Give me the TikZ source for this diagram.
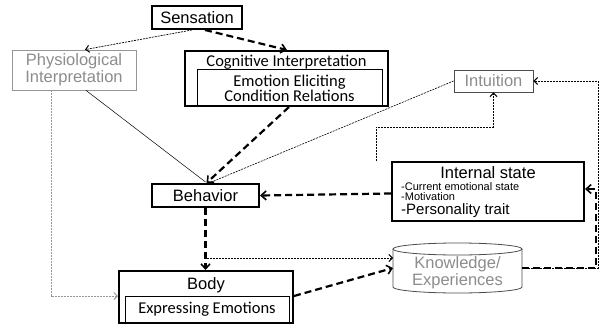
\documentclass[tikz,border=0pt]{standalone}
\usepackage{fontspec}
\setmainfont{Liberation Sans}
\newfontfamily\calib{Carlito}
\usetikzlibrary{arrows.meta,calc}
\definecolor{lgray}{RGB}{140,140,140}
\definecolor{bgray}{RGB}{150,150,150}
\tikzset{
  thickbox/.style={draw=black,line width=2pt,inner sep=0pt},
  thinbox/.style={draw=black,line width=1pt,inner sep=0pt},
  graybox/.style={draw=bgray,line width=0.8pt,inner sep=0pt,text=lgray},
  bigdash/.style={line width=2.2pt,dash pattern=on 7pt off 4pt,-{Straight Barb[length=5pt,width=9pt,line width=1.6pt]}},
  smalldot/.style={line width=0.7pt,dash pattern=on 2pt off 1pt,-{Straight Barb[length=3.5pt,width=7pt,line width=1pt]}},
  grdot/.style={smalldot,draw=bgray},
  txt/.style={font=\fontsize{16.5}{17}\selectfont},
  ctxt/.style={font=\calib\fontsize{16.5}{14}\selectfont}
}
\begin{document}
\begin{tikzpicture}[x=1pt,y=-1pt]
\useasboundingbox (0,0) rectangle (602,326);
% nodes
\node[thickbox,minimum width=90pt,minimum height=23pt,txt] (sens) at (197,17.5) {Sensation};
\node[graybox,minimum width=124pt,minimum height=40pt,txt,align=center] (phys) at (74,70) {Physiological\\Interpretation};
\node[thickbox,minimum width=203pt,minimum height=55pt] (cog) at (286.5,78.5) {};
\node[ctxt] (cogt) at (286.5,62) {Cognitive Interpretation};
\node[thinbox,minimum width=185pt,minimum height=36pt,ctxt,align=center] (emo) at (289.5,88) {Emotion Eliciting\\Condition Relations};
\node[draw=black!70,line width=0.8pt,inner sep=0pt,text=lgray,minimum width=79pt,minimum height=22pt,txt] (intu) at (493.5,81) {Intuition};
\node[thickbox,minimum width=107pt,minimum height=23pt,txt] (beh) at (205.5,195.5) {Behavior};
\node[thickbox,minimum width=192pt,minimum height=59pt] (ints) at (488,191.5) {};
\node[txt] (intt) at (488,173) {Internal state};
\node[anchor=west,inner sep=0pt,font=\fontsize{11}{12}\selectfont] (l1) at (401,187) {-Current emotional state};
\node[anchor=west,inner sep=0pt,font=\fontsize{11}{12}\selectfont] (l2) at (401,196.5) {-Motivation};
\node[anchor=west,inner sep=0pt,font=\fontsize{15}{16}\selectfont] (l3) at (401,210.5) {-Personality trait};
\node[thickbox,minimum width=174pt,minimum height=52pt] (body) at (206,297) {};
\node[txt] (bodyt) at (206,285) {Body};
\node[thinbox,minimum width=164pt,minimum height=27pt,ctxt] (expr) at (207,309.5) {Expressing Emotions};
% cylinder
\draw[draw=black!70,line width=0.8pt,fill=white] (393,249) -- (393,287) arc[start angle=180,end angle=360,x radius=64.5pt,y radius=6pt] -- (522,249);
\draw[draw=black!70,line width=0.8pt] (457.5,249) ellipse[x radius=64.5pt,y radius=6pt];
\node[txt,text=lgray,align=center,inner sep=0pt] (knowt) at (457.5,273) {Knowledge/\\Experiences};
\coordinate (know) at (457.5,268);
\coordinate (knowW) at (393,268);
\coordinate (knowE) at (522,268);
% connectors
\draw[smalldot] ($(sens.south)+(-5,0)$) -- ($(phys.north)+(11,0)$);
\draw[bigdash] ($(sens.south)+(8,0)$) -- ($(cog.north)+(0.5,0)$);
\draw[line width=0.5pt] ($(phys.south)+(12,0)$) -- ($(beh.north)+(0,-1)$);
\draw[line width=0.6pt,dash pattern=on 2pt off 1pt] (intu.west) -- ($(beh.north)+(6,-1)$);
\draw[bigdash] ($(cog.south)+(2.5,0)$) -- ($(beh.north)+(1,0)$);
\draw[grdot] ($(phys.south)+(-23,0)$) |- ($(body.west)+(0,-1)$);
\coordinate (c1) at (376,127);
\draw[smalldot] (ints.north -| c1) -- (c1) -| (intu.south);
\coordinate (c2) at (598,268);
\draw[smalldot] (knowE) -- (c2) |- (intu.east);
\coordinate (c3) at (596,268);
\draw[bigdash] (knowE) -- (c3) |- ($(ints.east)+(0,-2.5)$);
\draw[bigdash] ($(ints.west)+(0,2)$) -- (beh.east);
\draw[bigdash] (beh.south) -- (body.north -| beh.south);
\coordinate (c4) at (207,258);
\draw[smalldot] (c4) -- (knowW |- c4);
\draw[bigdash] ($(body.east)+(0,-1)$) -- (knowW);
\end{tikzpicture}
\end{document}
